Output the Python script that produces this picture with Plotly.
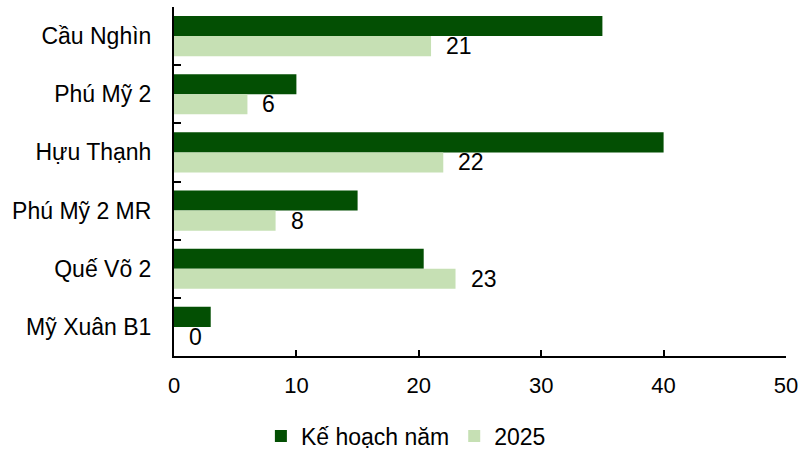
import plotly.graph_objects as go

# Industrial parks and their area figures (ha)
parks = ["Cầu Nghìn", "Phú Mỹ 2", "Hựu Thạnh", "Phú Mỹ 2 MR", "Quế Võ 2", "Mỹ Xuân B1"]
plan_year = [35, 10, 40, 15, 20.4, 3]
actual_2025 = [21, 6, 22, 8.3, 23, 0]

series_names = ["Kế hoạch năm", "2025"]
x_ticks = [0, 10, 20, 30, 40, 50]

DARK = "#034f03"
LIGHT = "#c6e0b4"
INK = "#000000"
FONT = "Liberation Sans, Arial, sans-serif"

fig = go.Figure()
fig.add_trace(go.Bar(y=parks, x=plan_year, name=series_names[0], orientation="h",
                     marker=dict(color=DARK, line=dict(width=0))))
fig.add_trace(go.Bar(y=parks, x=actual_2025, name=series_names[1], orientation="h",
                     marker=dict(color=LIGHT, line=dict(width=0))))

# value labels sitting just past the end of each light bar
for park, val in zip(parks, actual_2025):
    fig.add_annotation(x=val, y=park, text=f"{val:.0f}", showarrow=False,
                       xanchor="left", yanchor="middle", xshift=13, yshift=-10,
                       font=dict(family=FONT, size=23, color=INK))

fig.update_layout(
    width=799, height=451,
    margin=dict(l=174, r=13, t=7, b=95),
    paper_bgcolor="white", plot_bgcolor="white",
    barmode="group", bargap=0.31, bargroupgap=0,
    font=dict(family=FONT, size=22, color=INK),
    showlegend=True,
    legend=dict(orientation="h", xref="container", yref="container",
                x=0.508, y=0.033, xanchor="center", yanchor="middle",
                font=dict(family=FONT, size=23, color=INK),
                itemwidth=30, traceorder="normal"),
)

fig.update_xaxes(range=[0, 50], tickvals=x_ticks, showgrid=False, zeroline=False,
                 automargin=False,
                 showline=True, linecolor=INK, linewidth=2,
                 ticks="inside", ticklen=6, tickwidth=1.5, tickcolor=INK,
                 ticklabelstandoff=9, tickfont=dict(size=22))
fig.update_yaxes(autorange="reversed", showgrid=False, zeroline=False,
                 automargin=False,
                 showline=True, linecolor=INK, linewidth=2,
                 ticks="inside", tickson="boundaries", ticklen=7, tickwidth=1.5,
                 tickcolor=INK, ticklabelstandoff=16, tickfont=dict(size=23))

fig.write_html("out.html")
